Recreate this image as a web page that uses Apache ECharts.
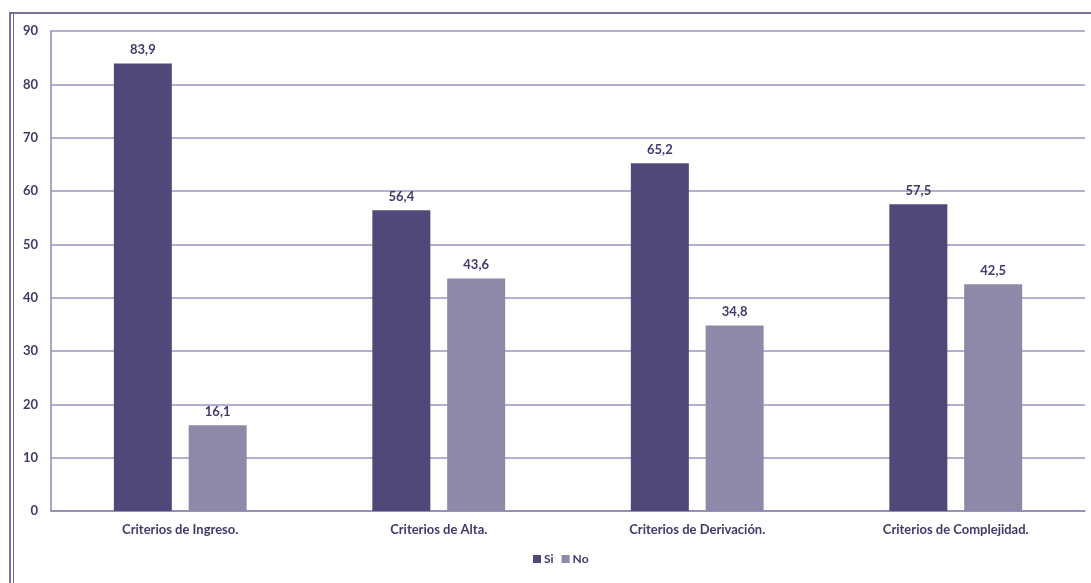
<!DOCTYPE html>
<html><head><meta charset="utf-8">
<script src="https://cdn.jsdelivr.net/npm/echarts@6/dist/echarts.min.js"></script>
<style>html,body{margin:0;padding:0;background:#fff}#c{width:1091px;height:583px}</style>
</head><body><div id="c"></div>
<script>
const categories = ['Criterios de Ingreso.', 'Criterios de Alta.', 'Criterios de Derivación.', 'Criterios de Complejidad.'];
const siValues = [83.9, 56.4, 65.2, 57.5];
const noValues = [16.1, 43.6, 34.8, 42.5];
const seriesNames = ['Si', 'No'];
const fmt = p => String(p.value).replace('.', ',');
const chart = echarts.init(document.getElementById('c'));
const txt = '#3f3a6b';
chart.setOption({
  animation: false,
  textStyle: { fontFamily: 'Lato' },
  graphic: [
    { type: 'rect', shape: { x: 10, y: 13, width: 1200, height: 700 }, style: { fill: 'none', stroke: '#4a4478', lineWidth: 1.5 } },
    { type: 'line', shape: { x1: 13.5, y1: 14, x2: 13.5, y2: 700 }, style: { stroke: '#6d66a0', lineWidth: 1 } }
  ],
  grid: { left: 51, right: 6, top: 31, bottom: 72 },
  legend: {
    bottom: 13, left: 528, itemWidth: 8, itemHeight: 8, itemGap: 8,
    textStyle: { color: txt, fontWeight: 'bold', fontSize: 12, padding: [0, 0, 0, -2] },
    data: seriesNames.map(n => ({ name: n, icon: 'rect' }))
  },
  xAxis: {
    type: 'category', data: categories,
    axisLine: { lineStyle: { color: '#8e86b5', width: 1.5 } },
    axisTick: { show: false },
    axisLabel: { color: txt, fontSize: 13, fontWeight: 'bold', margin: 12 }
  },
  yAxis: {
    type: 'value', min: 0, max: 90, interval: 10,
    axisLine: { show: true, lineStyle: { color: '#8e86b5', width: 1.5 } },
    splitLine: { lineStyle: { color: '#9b93c4', width: 1.5 } },
    axisLabel: { color: txt, fontSize: 13, fontWeight: 'bold', margin: 13 }
  },
  series: [
    { name: seriesNames[0], type: 'bar', data: siValues, barWidth: 58, barGap: '29%',
      itemStyle: { color: '#504878' },
      label: { show: true, position: 'top', distance: 7, color: txt, fontWeight: 'bold', fontSize: 13, formatter: fmt } },
    { name: seriesNames[1], type: 'bar', data: noValues, barWidth: 58,
      itemStyle: { color: '#8f88a9' },
      label: { show: true, position: 'top', distance: 7, color: txt, fontWeight: 'bold', fontSize: 13, formatter: fmt } }
  ]
});
</script></body></html>
